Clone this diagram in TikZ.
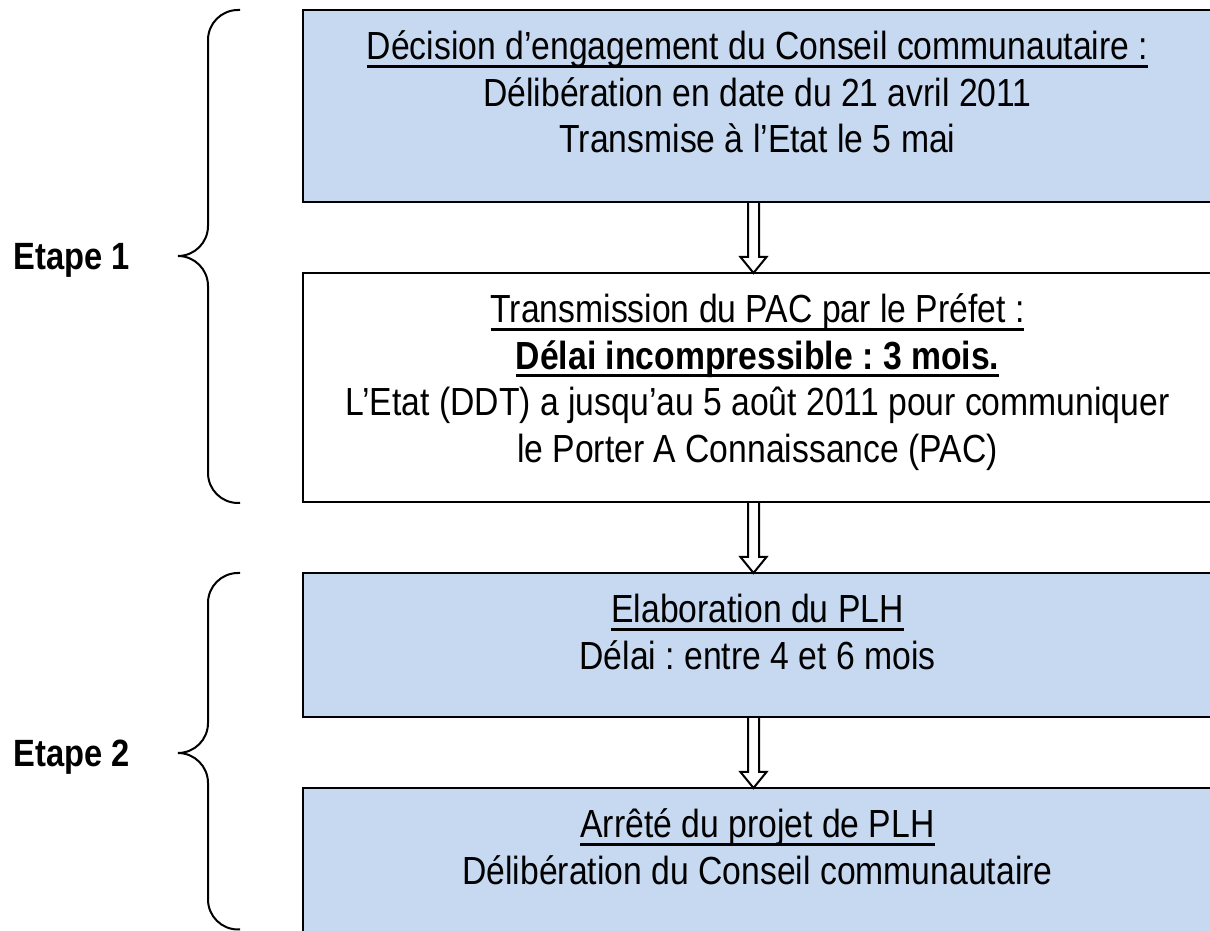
\documentclass[tikz,border=0pt]{standalone}
\usepackage{fontspec}
\setmainfont{Liberation Sans}[FakeStretch=0.86]
\usepackage{tikz}
\usetikzlibrary{positioning, calc}
\frenchspacing
\definecolor{StageBlue}{RGB}{198, 217, 241}
\tikzset{
  stagebox/.style={
    rectangle, draw=black, fill=#1, line width=2pt,
    minimum width=909pt, inner sep=0pt, outer sep=0pt, anchor=north,
    font=\fontsize{39.2}{46.5}\selectfont
  },
  stagebrace/.style={draw=black, line width=2pt, rounded corners=30pt},
  stagelabel/.style={font=\bfseries\fontsize{38}{40}\selectfont, inner sep=0pt, text depth=0pt},
  hollow/.style={draw=black, line width=2pt, line join=miter, to path={
      ($(\tikztostart.south)+(#1-5.5,0)$)
      -- ($(\tikztotarget.north)+(#1-5.5,16)$) -- ++(-7.5,0)
      -- ($(\tikztotarget.north)+(#1,0)$)
      -- ($(\tikztotarget.north)+(#1+13,16)$) -- ++(-7.5,0)
      -- ($(\tikztostart.south)+(#1+5.5,0)$)
  }},
  hollow/.default=0,
}
\newsavebox{\ulbox}
\newcommand{\wordul}[1]{\leavevmode\sbox{\ulbox}{#1}\rlap{\rule[-8pt]{\wd\ulbox}{3pt}}\usebox{\ulbox}}
\newcommand{\stagetext}[2]{\parbox[t][#1][t]{900pt}{\centering\rule{0pt}{50pt}#2}}

\begin{document}
\begin{tikzpicture}[x=1pt, y=1pt]
\useasboundingbox (0,0) rectangle (1210,931);

\node[stagebox=StageBlue] (b1) at (757.5,921) {\stagetext{192pt}{%
  \wordul{Décision d’engagement du Conseil communautaire :}\\
  Délibération en date du 21 avril 2011\\
  Transmise à l’Etat le 5 mai}};
\node[stagebox=white, below=71pt of b1] (b2) {\stagetext{229pt}{%
  \wordul{Transmission du PAC par le Préfet :}\\
  \wordul{\textbf{Délai incompressible : 3 mois.}}\\
  L’Etat (DDT) a jusqu’au 5 août 2011 pour communiquer\\
  le Porter A Connaissance (PAC)}};
\node[stagebox=StageBlue, below=71pt of b2] (b3) {\stagetext{144pt}{%
  \wordul{Elaboration du PLH}\\
  Délai : entre 4 et 6 mois}};
\node[stagebox=StageBlue, below=71pt of b3] (b4) {\stagetext{160pt}{%
  \wordul{Arrêté du projet de PLH}\\
  Délibération du Conseil communautaire}};

\draw[hollow=-4] (b1) to (b2);
\draw[hollow=-4] (b2) to (b3);
\draw[hollow=-4] (b3) to (b4);

% Etapes
\coordinate (tip1) at (178,675);
\coordinate (tip2) at (178,178);
\draw[stagebrace] (240,921) -- (208,921) -- (208,675) -- (tip1);
\draw[stagebrace] (240,428) -- (208,428) -- (208,675) -- (tip1);
\draw[stagebrace] (240,358) -- (208,358) -- (208,178) -- (tip2);
\draw[stagebrace] (240,1.5) -- (208,1.5) -- (208,178) -- (tip2);
\node[stagelabel, left=48pt of tip1] (etape1) {Etape 1};
\node[stagelabel, left=48pt of tip2] (etape2) {Etape 2};
\end{tikzpicture}
\end{document}
